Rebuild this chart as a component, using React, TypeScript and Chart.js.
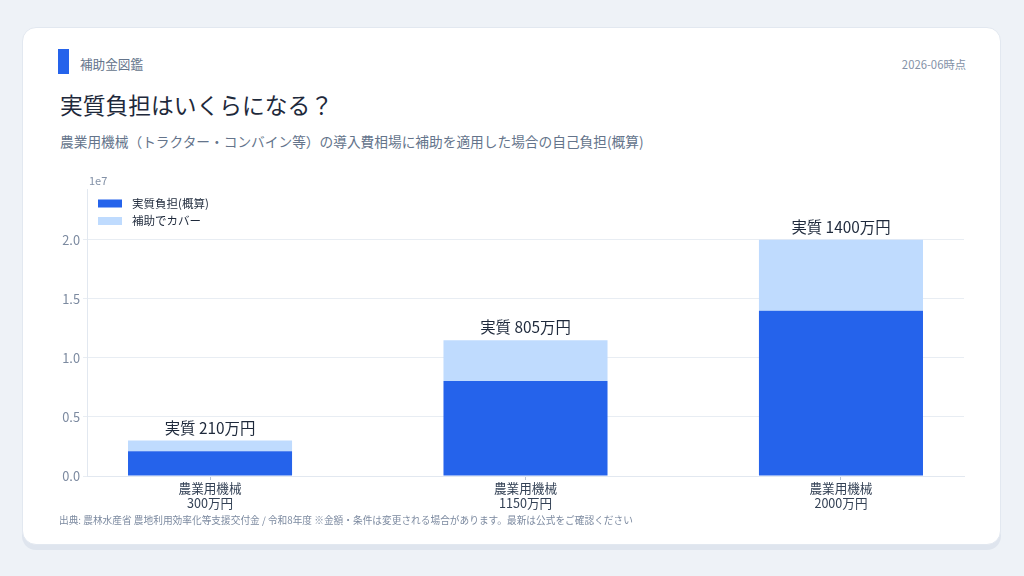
import React, { useEffect, useRef } from "react";
import { Chart, registerables } from "chart.js";

Chart.register(...registerables);

const categoryNames = ["農業用機械", "農業用機械", "農業用機械"];
const priceLabels = ["300万円", "1150万円", "2000万円"];
const selfBurden = [2100000, 8050000, 14000000];
const subsidyCover = [900000, 3450000, 6000000];
const yTickValues = [0, 5000000, 10000000, 15000000, 20000000];
const seriesNames = ["実質負担(概算)", "補助でカバー"];
const seriesColors = ["#2563eb", "#bfdbfe"];

const FONT = "'Noto Sans CJK JP', 'Noto Sans', sans-serif";

export default function App() {
  const ref = useRef<HTMLCanvasElement | null>(null);

  useEffect(() => {
    if (!ref.current) return;
    const xs = categoryNames.map((_, i) => i);
    const labelPlugin = {
      id: "valueLabels",
      afterDatasetsDraw(chart: any) {
        const { ctx, scales, chartArea } = chart;
        ctx.save();
        ctx.font = `15.4px ${FONT}`;
        ctx.fillStyle = "#1e293b";
        ctx.textAlign = "center";
        ctx.textBaseline = "bottom";
        xs.forEach((x, i) => {
          const total = selfBurden[i] + subsidyCover[i];
          const px = scales.x.getPixelForValue(x);
          const py = scales.y.getPixelForValue(total);
          ctx.fillText(`実質 ${selfBurden[i] / 10000}万円`, px, py - 5);
        });
        // offset label
        ctx.font = `11px ${FONT}`;
        ctx.fillStyle = "#8391a7";
        ctx.textAlign = "left";
        ctx.textBaseline = "middle";
        ctx.fillText("1e7", chartArea.left + 2, chartArea.top - 8);
        // legend
        ctx.font = `11.5px ${FONT}`;
        seriesNames.forEach((name, k) => {
          const cy = chartArea.top + 14.5 + k * 17.5;
          ctx.fillStyle = seriesColors[k];
          ctx.fillRect(chartArea.left + 11, cy - 4, 24, 8);
          ctx.fillStyle = "#1e293b";
          ctx.fillText(name, chartArea.left + 45, cy);
        });
        ctx.restore();
      },
    };

    const chart = new Chart(ref.current, {
      type: "bar",
      data: {
        datasets: seriesNames.map((name, k) => ({
          label: name,
          data: xs.map((x, i) => ({ x, y: (k === 0 ? selfBurden : subsidyCover)[i] })),
          backgroundColor: seriesColors[k],
          borderWidth: 0,
          barPercentage: 0.52,
          categoryPercentage: 1,
        })),
      },
      options: {
        animation: false,
        responsive: false,
        maintainAspectRatio: false,
        layout: { padding: { top: 18, right: 17, bottom: 0, left: 0 } },
        plugins: {
          legend: { display: false },
          tooltip: { enabled: false },
        },
        scales: {
          x: {
            type: "linear",
            stacked: true,
            offset: false,
            min: -0.39,
            max: 2.39,
            afterBuildTicks: (axis: any) => {
              axis.ticks = xs.map((v) => ({ value: v }));
            },
            afterFit: (axis: any) => {
              axis.height = 38;
            },
            ticks: {
              autoSkip: false,
              maxRotation: 0,
              color: "#334155",
              font: { family: FONT, size: 12.6 },
              padding: 1,
              callback: (v: any) => {
                const i = Math.round(Number(v));
                return [categoryNames[i], priceLabels[i]];
              },
            },
            grid: {
              offset: false,
              drawOnChartArea: false,
              drawTicks: true,
              tickLength: 4,
              color: "#b8c2d0",
            },
            border: { color: "#e2e8f0" },
          },
          y: {
            stacked: true,
            min: 0,
            max: 24300000,
            afterBuildTicks: (axis: any) => {
              axis.ticks = yTickValues.map((v) => ({ value: v }));
            },
            afterFit: (axis: any) => {
              axis.width = 46;
            },
            ticks: {
              color: "#7c8aa0",
              font: { family: FONT, size: 12.8 },
              padding: 3,
              callback: (v: any) => (Number(v) / 1e7).toFixed(1),
            },
            grid: {
              color: "#e8edf3",
              tickLength: 4,
            },
            border: { color: "#e2e8f0" },
          },
        },
      },
      plugins: [labelPlugin],
    } as any);
    return () => chart.destroy();
  }, []);

  return (
    <div
      style={{
        position: "fixed",
        left: 0,
        top: 0,
        width: 1024,
        height: 576,
        background: "#eef2f7",
        fontFamily: FONT,
      }}
    >
      <div
        style={{
          position: "absolute",
          left: 22,
          top: 27,
          width: 979,
          height: 518,
          background: "#ffffff",
          borderRadius: 14,
          border: "1px solid #e2e8f0",
          boxSizing: "border-box",
          boxShadow: "0 5px 0 #dfe5ee",
        }}
      >
        <div
          style={{
            position: "absolute",
            left: 35,
            top: 21,
            width: 11,
            height: 25,
            background: "#2563eb",
          }}
        />
        <div
          style={{
            position: "absolute",
            left: 57,
            top: 28,
            fontSize: 12.6,
            color: "#64748b",
            lineHeight: "15px",
          }}
        >
          補助金図鑑
        </div>
        <div
          style={{
            position: "absolute",
            right: 34,
            top: 29,
            fontSize: 11.3,
            color: "#8391a7",
            lineHeight: "14px",
          }}
        >
          2026-06時点
        </div>
        <div
          style={{
            position: "absolute",
            left: 37,
            top: 62,
            fontSize: 22.75,
            color: "#1e293b",
            lineHeight: "30px",
          }}
        >
          実質負担はいくらになる？
        </div>
        <div
          style={{
            position: "absolute",
            left: 37,
            top: 104,
            fontSize: 13.7,
            color: "#64748b",
            lineHeight: "18px",
          }}
        >
          農業用機械（トラクター・コンバイン等）の導入費相場に補助を適用した場合の自己負担(概算)
        </div>
        <canvas
          ref={ref}
          width={940}
          height={343}
          style={{ position: "absolute", left: 18, top: 143, width: 940, height: 343 }}
        />
        <div
          style={{
            position: "absolute",
            left: 36,
            top: 486,
            fontSize: 9.7,
            color: "#7c8aa0",
            lineHeight: "13px",
            whiteSpace: "nowrap",
          }}
        >
          出典: 農林水産省 農地利用効率化等支援交付金 / 令和8年度 ※金額・条件は変更される場合があります。最新は公式をご確認ください
        </div>
      </div>
    </div>
  );
}
